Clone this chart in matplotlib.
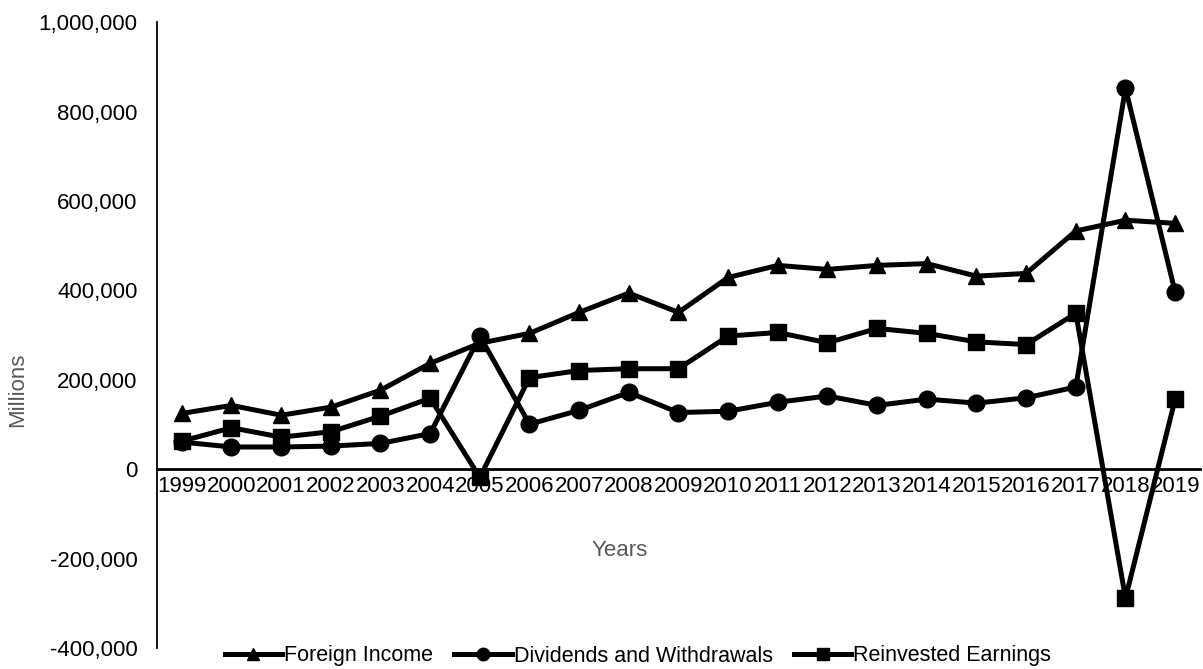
import numpy as np
import matplotlib
matplotlib.use("Agg")
from matplotlib import pyplot as plt
from matplotlib.ticker import FuncFormatter

plt.rcParams['font.family'] = ['Liberation Sans', 'DejaVu Sans']

# Series in millions, one value per year
years = [str(y) for y in range(1999, 2020)]
foreign_income = [125000, 143000, 121000, 139000, 177000, 237000, 282000,
                  304000, 351000, 394000, 351000, 429000, 456000, 447000,
                  456000, 460000, 432000, 438000, 533000, 557000, 550000]
dividends = [61000, 50000, 50000, 52000, 58000, 80000, 298000,
             101000, 132000, 172000, 127000, 130000, 150000, 164000,
             143000, 157000, 148000, 160000, 184000, 852000, 396000]
reinvested = [63000, 93000, 72000, 84000, 119000, 159000, -18000,
              205000, 221000, 225000, 225000, 298000, 306000, 283000,
              315000, 304000, 285000, 279000, 349000, -288000, 157000]

FS = 16

fig = plt.figure(figsize=(12.03, 6.69), dpi=100)
ax = fig.add_axes([0.1305, 0.031, 0.867, 0.936])

x = np.arange(len(years))
ax.plot(x, foreign_income, color='black', lw=3.6, marker='^', ms=11,
        label='Foreign Income')
ax.plot(x, dividends, color='black', lw=3.6, marker='o', ms=12,
        label='Dividends and Withdrawals')
ax.plot(x, reinvested, color='black', lw=3.6, marker='s', ms=11,
        label='Reinvested Earnings')

ax.set_xlim(-0.5, len(years) - 0.5)
ax.set_ylim(-400000, 1000000)
ax.set_yticks(np.arange(-400000, 1000001, 200000))
ax.yaxis.set_major_formatter(FuncFormatter(lambda v, p: '{:,.0f}'.format(v)))
ax.set_xticks(x)
ax.set_xticklabels(years)

ax.spines['top'].set_visible(False)
ax.spines['right'].set_visible(False)
ax.spines['bottom'].set_position(('data', 0))
ax.spines['bottom'].set_linewidth(2)
ax.spines['left'].set_linewidth(1.3)
ax.tick_params(axis='both', length=0, labelsize=FS, colors='black')
ax.tick_params(axis='y', pad=14)
ax.tick_params(axis='x', pad=5)

fig.text(18 / 1203, 1 - 390 / 669, 'Millions', rotation=90, ha='center',
         va='center', fontsize=FS, color='#595959')
fig.text(620 / 1203, 1 - 551 / 669, 'Years', ha='center', va='center',
         fontsize=FS, color='#595959')

fig.legend(loc='center', bbox_to_anchor=(638 / 1203, 1 - 656 / 669), ncol=3,
           frameon=False, fontsize=15.5, handlelength=2.65, handletextpad=0.1,
           columnspacing=1.0, numpoints=1, markerscale=0.75)

fig.savefig('out.png', dpi=100)
